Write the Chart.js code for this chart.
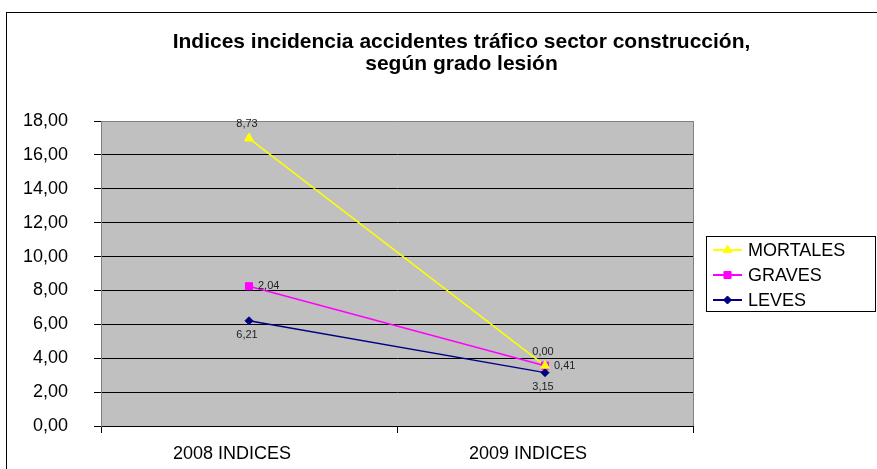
<!DOCTYPE html>
<html>
<head>
<meta charset="utf-8">
<script src="https://cdn.jsdelivr.net/npm/chart.js@4/dist/chart.umd.min.js"></script>
<style>
  html, body { margin: 0; padding: 0; background: #fff; }
  #wrap { width: 877px; height: 469px; }
</style>
</head>
<body>
<div id="wrap"><canvas id="chart" width="877" height="469"></canvas></div>
<script>
// Data
const categories = ['2008 INDICES', '2009 INDICES'];
const leves = [6.21, 3.15];
const graves = [2.04, 0.41];
const mortales = [8.73, 0.00];
const yTicks = [0, 2, 4, 6, 8, 10, 12, 14, 16, 18];
const titleLines = ['Indices incidencia accidentes tráfico sector construcción,', 'según grado lesión'];

const fmt = v => Number(v).toFixed(2).replace('.', ',');

// Background, outer frame and plot fill
const framePlugin = {
    id: 'frame',
    beforeDraw(chart) {
        const ctx = chart.ctx;
        const a = chart.chartArea;
        ctx.save();
        ctx.fillStyle = '#fff';
        ctx.fillRect(0, 0, chart.width, chart.height);
        ctx.strokeStyle = '#000';
        ctx.lineWidth = 1;
        ctx.strokeRect(6.5, 12.5, 1000, 1000);
        ctx.fillStyle = '#C0C0C0';
        ctx.fillRect(a.left, a.top, a.right - a.left, a.bottom - a.top);
        ctx.restore();
    },
    afterDraw(chart) {
        // right edge of plot area
        const ctx = chart.ctx;
        const a = chart.chartArea;
        ctx.save();
        ctx.strokeStyle = '#808080';
        ctx.lineWidth = 1;
        ctx.beginPath();
        ctx.moveTo(a.right + 0.5, a.top);
        ctx.lineTo(a.right + 0.5, a.bottom);
        ctx.stroke();
        ctx.restore();
    }
};

// Title
const titlePlugin = {
    id: 'titleText',
    afterDraw(chart) {
        const ctx = chart.ctx;
        ctx.save();
        ctx.font = 'bold 21px Arial, "Liberation Sans", sans-serif';
        ctx.fillStyle = '#000';
        ctx.textAlign = 'center';
        ctx.textBaseline = 'alphabetic';
        ctx.fillText(titleLines[0], 461.5, 48);
        ctx.fillText(titleLines[1], 461.5, 70);
        ctx.restore();
    }
};

// Value labels next to each point (and top series markers drawn last)
const valueLabels = {
    id: 'valueLabels',
    afterDatasetsDraw(chart) {
        const ctx = chart.ctx;
        // MORTALES markers sit on top of the others in the original
        const topMeta = chart.getDatasetMeta(chart.data.datasets.length - 1);
        topMeta.data.forEach(pt => pt.draw(ctx, chart.chartArea));

        ctx.save();
        ctx.font = '11px Arial, "Liberation Sans", sans-serif';
        ctx.fillStyle = '#222';
        chart.data.datasets.forEach((ds, i) => {
            const meta = chart.getDatasetMeta(i);
            meta.data.forEach((pt, j) => {
                const txt = fmt(ds.data[j]);
                if (ds.labelPos === 'above') {
                    ctx.textAlign = 'center'; ctx.textBaseline = 'middle';
                    ctx.fillText(txt, pt.x - 2, pt.y - 14);
                } else if (ds.labelPos === 'below') {
                    ctx.textAlign = 'center'; ctx.textBaseline = 'middle';
                    ctx.fillText(txt, pt.x - 2, pt.y + 14);
                } else {
                    ctx.textAlign = 'left'; ctx.textBaseline = 'middle';
                    ctx.fillText(txt, pt.x + 9, pt.y);
                }
            });
        });
        ctx.restore();
    }
};

// Legend box on the right
const legendBox = {
    id: 'legendBox',
    afterDraw(chart) {
        const ctx = chart.ctx;
        const x = 706.5, y = 236.5, w = 169, h = 75;
        ctx.save();
        ctx.strokeStyle = '#000';
        ctx.lineWidth = 1;
        ctx.strokeRect(x, y, w, h);
        const items = chart.data.datasets.slice().reverse();
        items.forEach((ds, k) => {
            const cy = 250 + k * 25;
            ctx.strokeStyle = ds.borderColor;
            ctx.lineWidth = 2;
            ctx.beginPath();
            ctx.moveTo(713, cy);
            ctx.lineTo(742, cy);
            ctx.stroke();
            ctx.fillStyle = ds.pointBackgroundColor;
            ctx.strokeStyle = ds.borderColor;
            ctx.lineWidth = 1;
            Chart.helpers.drawPoint(ctx, {
                pointStyle: ds.pointStyle,
                radius: ds.pointRadius,
                rotation: 0,
                borderWidth: 1
            }, 727.5, cy);
            ctx.fillStyle = '#000';
            ctx.font = '18px Arial, "Liberation Sans", sans-serif';
            ctx.textAlign = 'left';
            ctx.textBaseline = 'middle';
            ctx.fillText(ds.label, 748, cy + 1);
        });
        ctx.restore();
    }
};

const ctx = document.getElementById('chart').getContext('2d');
const chart = new Chart(ctx, {
    type: 'line',
    data: {
        labels: categories,
        datasets: [
            {
                label: 'LEVES', data: leves, labelPos: 'below',
                borderColor: '#000080', backgroundColor: '#000080', pointBackgroundColor: '#000080',
                borderWidth: 1.5, pointStyle: 'rectRot', pointRadius: 4, pointBorderWidth: 1, tension: 0
            },
            {
                label: 'GRAVES', data: graves, labelPos: 'right',
                borderColor: '#FF00FF', backgroundColor: '#FF00FF', pointBackgroundColor: '#FF00FF',
                borderWidth: 1.5, pointStyle: 'rect', pointRadius: 5, pointBorderWidth: 1, tension: 0
            },
            {
                label: 'MORTALES', data: mortales, labelPos: 'above',
                borderColor: '#FFFF00', backgroundColor: '#FFFF00', pointBackgroundColor: '#FFFF00',
                borderWidth: 1.5, pointStyle: 'triangle', pointRadius: 5, pointBorderWidth: 1, tension: 0
            }
        ]
    },
    options: {
        responsive: false,
        animation: false,
        devicePixelRatio: 1,
        layout: { padding: { left: 0, right: 184, top: 121, bottom: 0 } },
        plugins: {
            legend: { display: false },
            title: { display: false },
            tooltip: { enabled: false }
        },
        scales: {
            x: {
                offset: true,
                grid: { display: true, offset: true, drawOnChartArea: false, tickLength: 7, color: '#000' },
                border: { color: '#000' },
                ticks: {
                    color: '#000',
                    font: { family: 'Arial, "Liberation Sans", sans-serif', size: 18 },
                    labelOffset: -17,
                    padding: 10,
                    maxRotation: 0
                },
                afterFit: s => { s.height = 43; }
            },
            y: {
                stacked: true,
                min: 0,
                max: 18,
                afterBuildTicks: s => { s.ticks = yTicks.map(v => ({ value: v })); },
                grid: {
                    color: c => (c.tick && c.tick.value === 18) ? '#808080' : '#000',
                    tickColor: '#000',
                    tickLength: 7
                },
                border: { color: '#808080' },
                ticks: {
                    color: '#000',
                    font: { family: 'Arial, "Liberation Sans", sans-serif', size: 18 },
                    padding: 26,
                    callback: v => fmt(v)
                },
                afterFit: s => { s.width = 101; }
            }
        }
    },
    plugins: [framePlugin, valueLabels, legendBox, titlePlugin]
});
</script>
</body>
</html>
